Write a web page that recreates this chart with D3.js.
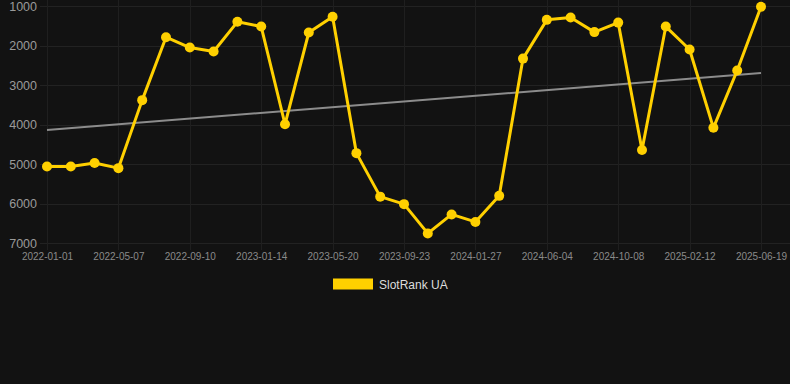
<!DOCTYPE html>
<html>
<head>
<meta charset="utf-8">
<script src="https://cdn.jsdelivr.net/npm/d3@7"></script>
<style>
  html, body { margin: 0; padding: 0; background: #121212; }
  svg { display: block; font-family: "Liberation Sans", Arial, sans-serif; }
</style>
</head>
<body>
<svg id="chart" width="790" height="384"></svg>
<script>
// dates on the category axis (every 3rd one is labelled)
const dates = [
  "2022-01-01", "2022-02-12", "2022-03-26", "2022-05-07", "2022-06-18", "2022-07-30",
  "2022-09-10", "2022-10-22", "2022-12-03", "2023-01-14", "2023-02-25", "2023-04-08",
  "2023-05-20", "2023-07-01", "2023-08-12", "2023-09-23", "2023-11-04", "2023-12-16",
  "2024-01-27", "2024-03-09", "2024-04-23", "2024-06-04", "2024-07-16", "2024-08-27",
  "2024-10-08", "2024-11-19", "2024-12-31", "2025-02-12", "2025-03-26", "2025-05-08",
  "2025-06-19"
];

// rank values, SlotRank UA
const ranks = [
  5060, 5060, 4970, 5100, 3380, 1790,
  2050, 2150, 1400, 1520, 3990, 1670,
  1270, 4720, 5820, 6010, 6750, 6270,
  6460, 5800, 2330, 1350, 1290, 1660,
  1420, 4640, 1520, 2100, 4080, 2630,
  1020
];

// trend line end values
const trend = [4135, 2695];

const yTicks = [1000, 2000, 3000, 4000, 5000, 6000, 7000];
const seriesName = "SlotRank UA";

const svg = d3.select("#chart");
const W = 790;

// background
svg.append("rect").attr("width", W).attr("height", 384).attr("fill", "#121212");

const x = d3.scalePoint()
  .domain(dates)
  .range([47, 761]);

const y = d3.scaleLinear()
  .domain([1000, 7000])
  .range([6, 243.3]);

const labelled = dates.filter((d, i) => i % 3 === 0);

// horizontal grid
svg.append("g")
  .selectAll("line")
  .data(yTicks)
  .join("line")
    .attr("x1", 40).attr("x2", W)
    .attr("y1", d => Math.round(y(d)) + 0.5)
    .attr("y2", d => Math.round(y(d)) + 0.5)
    .attr("stroke", "#222")
    .attr("stroke-width", 1);

// vertical grid
svg.append("g")
  .selectAll("line")
  .data(labelled)
  .join("line")
    .attr("x1", d => Math.round(x(d)) + 0.5)
    .attr("x2", d => Math.round(x(d)) + 0.5)
    .attr("y1", 0).attr("y2", 250)
    .attr("stroke", "#1f1f1f")
    .attr("stroke-width", 1);

// y axis labels
const yAxis = d3.axisLeft(y).tickValues(yTicks).tickFormat(d3.format("d")).tickSize(0).tickPadding(0);
svg.append("g")
  .attr("transform", "translate(37,0)")
  .call(yAxis)
  .call(g => g.select(".domain").remove())
  .call(g => g.selectAll("text")
    .attr("fill", "#9a9a9a")
    .attr("font-size", 12.5)
    .attr("font-family", "Liberation Sans, Arial, sans-serif"));

// x axis labels
const xAxis = d3.axisBottom(x).tickValues(labelled).tickSize(0).tickPadding(0);
svg.append("g")
  .attr("transform", "translate(0,253)")
  .call(xAxis)
  .call(g => g.select(".domain").remove())
  .call(g => g.selectAll("text")
    .attr("fill", "#8a8a8a")
    .attr("font-size", 10)
    .attr("font-family", "Liberation Sans, Arial, sans-serif"));

// trend line
svg.append("line")
  .attr("x1", x(dates[0])).attr("y1", y(trend[0]))
  .attr("x2", x(dates[dates.length - 1])).attr("y2", y(trend[1]))
  .attr("stroke", "#8c8c8c")
  .attr("stroke-width", 2);

// series line
const line = d3.line()
  .x((d, i) => x(dates[i]))
  .y(d => y(d));

svg.append("path")
  .datum(ranks)
  .attr("fill", "none")
  .attr("stroke", "#ffd000")
  .attr("stroke-width", 3)
  .attr("stroke-linejoin", "round")
  .attr("d", line);

svg.append("g")
  .selectAll("circle")
  .data(ranks)
  .join("circle")
    .attr("cx", (d, i) => x(dates[i]))
    .attr("cy", d => y(d))
    .attr("r", 5)
    .attr("fill", "#ffd000");

// legend
svg.append("rect")
  .attr("x", 333).attr("y", 278.5)
  .attr("width", 40).attr("height", 11)
  .attr("fill", "#ffd000");

svg.append("text")
  .attr("x", 379).attr("y", 288.5)
  .attr("fill", "#dddddd")
  .attr("font-size", 12)
  .text(seriesName);
</script>
</body>
</html>
